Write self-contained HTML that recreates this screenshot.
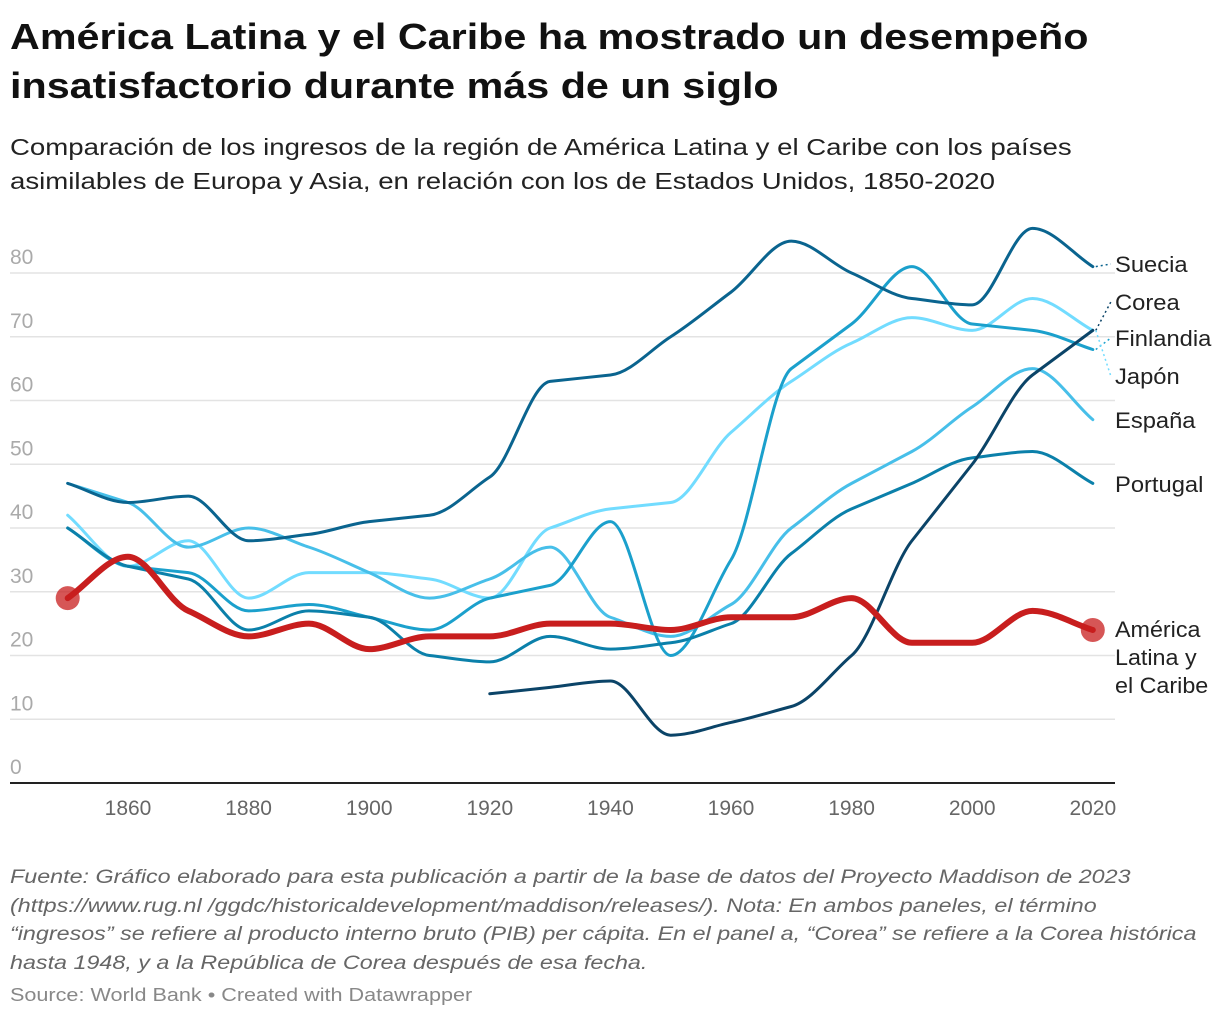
<!DOCTYPE html>
<html><head><meta charset="utf-8"><style>
body{margin:0;width:1220px;height:1020px;background:#fff;font-family:"Liberation Sans",sans-serif;overflow:hidden;position:relative}
.t{position:absolute;left:10px;white-space:nowrap;transform-origin:0 0}
</style></head><body>
<div class="t" style="top:12px;font-size:36px;font-weight:bold;color:#111;line-height:49px;transform:scaleX(1.147)">América Latina y el Caribe ha mostrado un desempeño<br>insatisfactorio durante más de un siglo</div>
<div class="t" style="top:130px;font-size:23px;color:#222;line-height:34px;transform:scaleX(1.2)">Comparación de los ingresos de la región de América Latina y el Caribe con los países<br>asimilables de Europa y Asia, en relación con los de Estados Unidos, 1850-2020</div>
<svg id="chart" width="1220" height="1020" style="position:absolute;left:0;top:0"></svg>
<div class="t" style="top:863px;font-size:19.5px;font-style:italic;color:#666;line-height:28.5px;transform:scaleX(1.195)">Fuente: Gráfico elaborado para esta publicación a partir de la base de datos del Proyecto Maddison de 2023<br>(https://www.rug.nl /ggdc/historicaldevelopment/maddison/releases/). Nota: En ambos paneles, el término<br>“ingresos” se refiere al producto interno bruto (PIB) per cápita. En el panel a, “Corea” se refiere a la Corea histórica<br>hasta 1948, y a la República de Corea después de esa fecha.</div>
<div class="t" style="top:985px;font-size:18px;color:#888;transform:scaleX(1.2)">Source: World Bank • Created with Datawrapper</div>
<script>
const years=[1850,1860,1870,1880,1890,1900,1910,1920,1930,1940,1950,1960,1970,1980,1990,2000,2010,2020];
const yTicks=[0,10,20,30,40,50,60,70,80];
const xTicks=[1860,1880,1900,1920,1940,1960,1980,2000,2020];
const suecia=[47,44,45,38,39,41,42,48,63,64,70,77,85,80,76,75,87,81];
const japon=[42,34,38,29,33,33,32,29,40,43,44,55,63,69,73,71,76,71];
const finlandia=[40,34,33,27,28,26,24,29,31,41,20,35,65,72,81,72,71,68];
const portugal=[40,34,32,24,27,26,20,19,23,21,22,25,36,43,47,51,52,47];
const espana=[47,44,37,40,37,33,29,32,37,26,23,28,40,47,52,59,65,57];
const corea=[null,null,null,null,null,null,null,14,15,16,7.5,9.5,12,20,38,50,64,71];
const lac=[29,35.5,27,23,25,21,23,23,25,25,24,26,26,29,22,22,27,24];

const svg=document.getElementById('chart');const NS='http://www.w3.org/2000/svg';
const X=y=>67.7+(y-1850)*6.03;const Y=v=>783-v*6.375;
function mk(t,a,p){const e=document.createElementNS(NS,t);for(const k in a)e.setAttribute(k,a[k]);(p||svg).appendChild(e);return e;}
yTicks.forEach(v=>{
 if(v>0){const g=mk('line',{x1:10,x2:1115,y1:Y(v),y2:Y(v),stroke:'#e3e3e3','stroke-width':1.5});
 
 }
 const t=mk('text',{x:10,y:Y(v)-9,'font-size':21,fill:'#aaa'});t.textContent=v;
 
 
});
const ax=mk('line',{x1:10,x2:1115,y1:783,y2:783,stroke:'#222','stroke-width':2});


xTicks.forEach(yr=>{const t=mk('text',{x:X(yr),y:815,'font-size':21,fill:'#666','text-anchor':'middle'});t.textContent=yr;
 
 });
function mono(pts){const n=pts.length;if(n<2)return'';const d=[],m=[];
 for(let i=0;i<n-1;i++)d.push((pts[i+1][1]-pts[i][1])/(pts[i+1][0]-pts[i][0]));
 m[0]=d[0];m[n-1]=d[n-2];
 for(let i=1;i<n-1;i++){const s0=d[i-1],s1=d[i];m[i]=(s0*s1<=0)?0:(Math.sign(s0)*Math.min(Math.abs(s0),Math.abs(s1),0.5*Math.abs(s0+s1)));}
 let p='M'+pts[0][0]+','+pts[0][1];
 for(let i=0;i<n-1;i++){const h=(pts[i+1][0]-pts[i][0])/3;
  p+=' C'+(pts[i][0]+h)+','+(pts[i][1]+m[i]*h)+' '+(pts[i+1][0]-h)+','+(pts[i+1][1]-m[i+1]*h)+' '+pts[i+1][0]+','+pts[i+1][1];}
 return p;}
function line(vals,color,w,name){const pts=[];vals.forEach((v,i)=>{if(v!=null)pts.push([X(years[i]),Y(v)]);});
 const e=mk('path',{d:mono(pts),fill:'none',stroke:color,'stroke-width':w,'stroke-linecap':'round','stroke-linejoin':'round'});
 
 return pts;}
line(japon,'#72dcff',3,'line-japon');
line(espana,'#47bfe9',3,'line-espana');
line(finlandia,'#1ba0cc',3,'line-finlandia');
line(portugal,'#0b80aa',3,'line-portugal');
line(suecia,'#0a648f',3,'line-suecia');
line(corea,'#0b4468',3,'line-corea');
const lp=line(lac,'#c81e1e',6,'line-america-latina');
[lp[0],lp[lp.length-1]].forEach(p=>{const c=mk('circle',{cx:p[0],cy:p[1],r:12,fill:'#c81e1e','fill-opacity':0.75});
 
 });
const ex=X(2020);
const labels=[['Suecia',suecia[17],264,'#0a648f'],['Corea',corea[17],302,'#0b4468'],['Finlandia',finlandia[17],338,'#1ba0cc'],['Japón',japon[17],376,'#72dcff'],['España',espana[17],420,null],['Portugal',portugal[17],484,null]];
labels.forEach(l=>{
 if(l[3]){const d=mk('path',{d:'M'+(ex+3)+','+Y(l[1])+' L'+(ex+18)+','+(l[2]),stroke:l[3],'stroke-width':1.5,'stroke-dasharray':'2,3',fill:'none'});
 
 }
 const t=mk('text',{x:1115,y:l[2]+8,'font-size':22,fill:'#222',transform:'translate(1115 0) scale(1.08 1) translate(-1115 0)'});t.textContent=l[0];
 
 
});
['América','Latina y','el Caribe'].forEach((s,i)=>{const t=mk('text',{x:1115,y:637+i*28,'font-size':22,fill:'#222',transform:'translate(1115 0) scale(1.06 1) translate(-1115 0)'});t.textContent=s;
 
 });
</script>
</body></html>
